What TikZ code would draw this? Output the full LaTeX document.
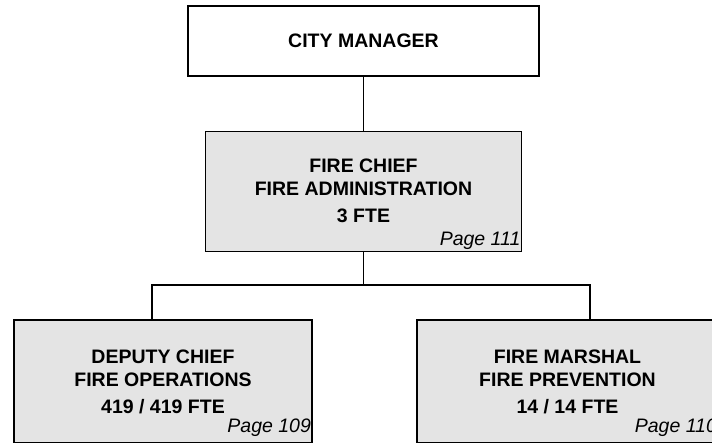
\documentclass[tikz,border=0pt]{standalone}
\usepackage{fontspec}
\setmainfont{Liberation Sans}
\usepackage{tikz}
\usetikzlibrary{positioning}
\definecolor{boxgray}{RGB}{228,228,228}

\tikzset{
  unitbox/.style={draw=black, line width=1.2pt, fill=boxgray, inner sep=0pt, align=center,
    font=\fontsize{19.5}{23}\selectfont\bfseries},
  pageref/.style={inner sep=0pt, anchor=base east, font=\fontsize{19.5}{23}\selectfont\itshape},
  link/.style={line width=1.2pt, black},
}

\begin{document}
\begin{tikzpicture}[x=1pt, y=-1pt]
        \useasboundingbox (0,0) rectangle (712,442);
        % Top of the chart
        \node[unitbox, fill=white, minimum width=351pt, minimum height=70pt] (cm) at (363.5,41) {CITY MANAGER};
        \node[unitbox, minimum width=316pt, minimum height=120pt, below=54pt of cm] (chief)
            {FIRE CHIEF\\ FIRE ADMINISTRATION\\[4pt] 3 FTE};
        \node[pageref] (p111) at ([xshift=-1.5pt, yshift=6pt]chief.south east) {Page 111};
        % The two divisions
        \node[unitbox, minimum width=298pt, minimum height=123pt] (dep) at (163,381.5)
            {DEPUTY CHIEF\\ FIRE OPERATIONS\\[4pt] 419 / 419 FTE};
        \node[pageref] (p109) at ([xshift=-1.5pt, yshift=11pt]dep.south east) {Page 109};
        \node[unitbox, minimum width=301pt, minimum height=123pt] (mar) at (567.5,381.5)
            {FIRE MARSHAL\\ FIRE PREVENTION\\[4pt] 14 / 14 FTE};
        \node[pageref] (p110) at ([xshift=-1.5pt, yshift=11pt]mar.south east) {Page 110};

        % Connectors
        \coordinate (bus) at (363.5,285);
        \draw[link] (cm.south) -- (chief.north);
        \draw[link] (chief.south) -- (bus);
        \draw[link] ([xshift=-11pt]dep.north) |- (bus) -| ([xshift=22.5pt]mar.north);
    \end{tikzpicture}
\end{document}
